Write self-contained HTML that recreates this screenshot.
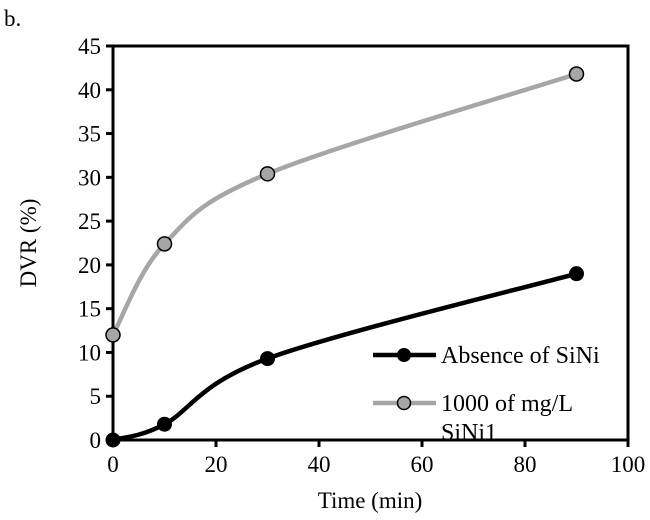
<!DOCTYPE html>
<html><head><meta charset="utf-8"><style>
body{margin:0;background:#fff}
svg{display:block;font-family:"Liberation Serif",serif}
</style></head><body>
<svg width="650" height="520">
<text x="4" y="26" font-size="23">b.</text>
<g id="axes"></g>
<g id="plot"></g>
<text transform="translate(36,243) rotate(-90)" text-anchor="middle" font-size="23">DVR (%)</text>
<text x="370" y="508" text-anchor="middle" font-size="23">Time (min)</text>
<g>
<g>
<line x1="373" y1="355" x2="436" y2="355" stroke="#000" stroke-width="4.5"/>
<circle cx="404" cy="355" r="7" fill="#000"/>
<text x="441" y="363" font-size="24">Absence of SiNi</text></g>
<g>
<line x1="373" y1="403" x2="436" y2="403" stroke="#a6a6a6" stroke-width="4.5"/>
<circle cx="404" cy="403" r="6.5" fill="#a6a6a6" stroke="#000" stroke-width="1.5"/>
<text x="441" y="411" font-size="24">1000 of mg/L</text>
<text x="441" y="440" font-size="24">SiNi1</text></g>
</g>
</svg>
<script>
const xTicks=[0,20,40,60,80,100];
const yTicks=[0,5,10,15,20,25,30,35,40,45];
const times=[0,10,30,90];
const absence=[0,1.8,9.3,19];
const sini1=[12,22.4,30.4,41.8];
const X0=113,X1=628,Y0=440,Y1=46;
const sx=v=>X0+(v-0)/100*(X1-X0);
const sy=v=>Y0-(v/45)*(Y0-Y1);
const NS="http://www.w3.org/2000/svg";
const axes=document.getElementById('axes'),plot=document.getElementById('plot');
function mk(tag,attrs,parent){const e=document.createElementNS(NS,tag);for(const k in attrs)e.setAttribute(k,attrs[k]);parent.appendChild(e);return e;}
const frame=mk('rect',{x:X0,y:Y1,width:X1-X0,height:Y0-Y1,fill:'none',stroke:'#000','stroke-width':3},axes);


xTicks.forEach(t=>{
 const l=mk('line',{x1:sx(t),x2:sx(t),y1:Y0,y2:Y0+7,stroke:'#000','stroke-width':3},axes);
 
 
 const tx=mk('text',{x:sx(t),y:Y0+32,'text-anchor':'middle','font-size':23},axes);tx.textContent=t;
 
 
});
yTicks.forEach(t=>{
 const l=mk('line',{x1:X0-7,x2:X0,y1:sy(t),y2:sy(t),stroke:'#000','stroke-width':3},axes);
 
 
 const tx=mk('text',{x:X0-12,y:sy(t)+8,'text-anchor':'end','font-size':23},axes);tx.textContent=t;
 
 
});
function smooth(pts){
 let d=`M${pts[0][0]},${pts[0][1]}`;
 for(let i=0;i<pts.length-1;i++){
  const p0=pts[i-1]||pts[i],p1=pts[i],p2=pts[i+1],p3=pts[i+2]||p2;
  const t=0.5/3;
  const c1=[p1[0]+(p2[0]-p0[0])*t,p1[1]+(p2[1]-p0[1])*t];
  const c2=[p2[0]-(p3[0]-p1[0])*t,p2[1]-(p3[1]-p1[1])*t];
  d+=` C${c1[0]},${c1[1]} ${c2[0]},${c2[1]} ${p2[0]},${p2[1]}`;
 }
 return d;
}
function series(vals,color,name,marker){
 const pts=times.map((t,i)=>[sx(t),sy(vals[i])]);
 const p=mk('path',{d:smooth(pts),fill:'none',stroke:color,'stroke-width':4.5},plot);
 
 
 pts.forEach(q=>{
  const c=mk('circle',{cx:q[0],cy:q[1],r:marker?7:7.5,fill:color,stroke:marker?'#000':'none','stroke-width':1.5},plot);
  
  
 });
}
series(sini1,'#a6a6a6','sini1',true);
series(absence,'#000','absence',false);
</script>
</body></html>
